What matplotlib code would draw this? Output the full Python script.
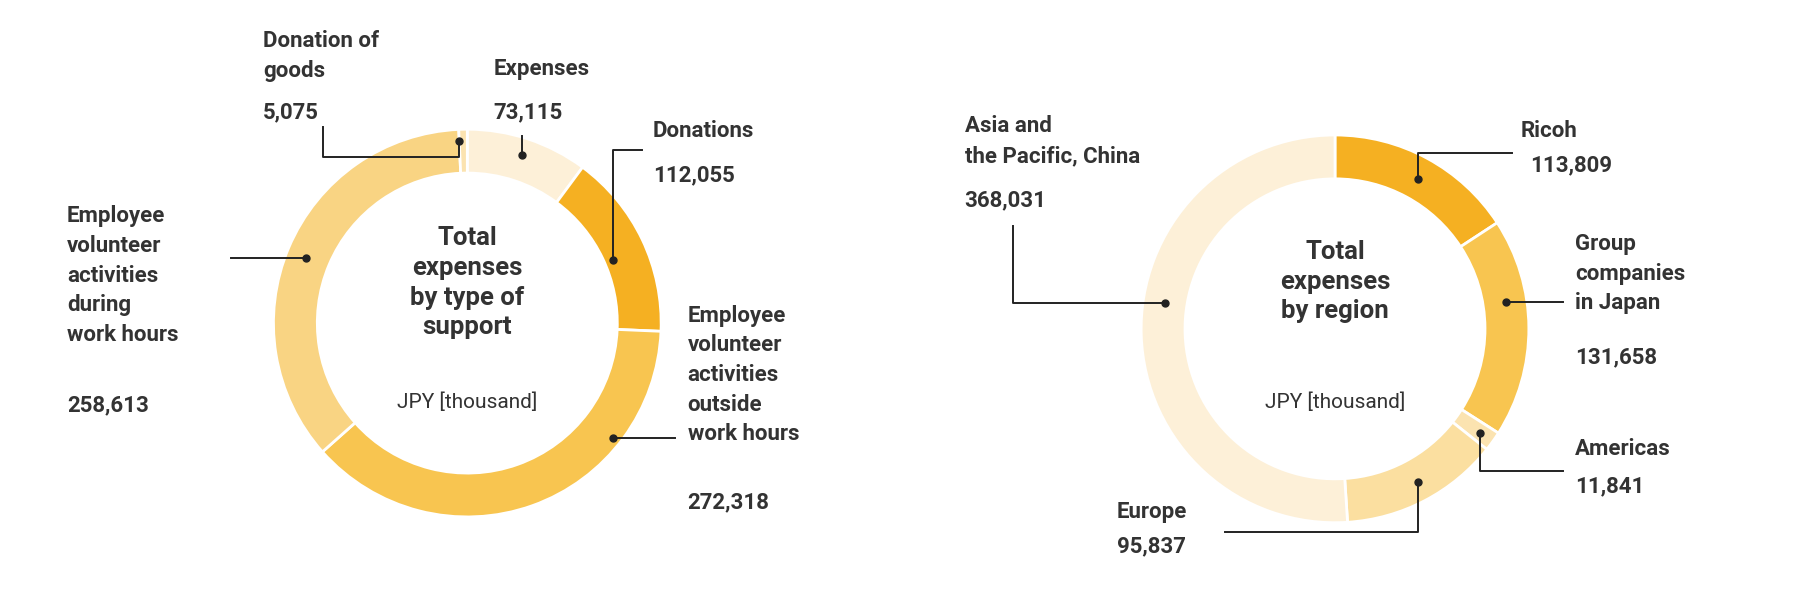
import matplotlib.pyplot as plt

# left donut: by type of support (clockwise from top)
type_labels = ["Expenses", "Donations", "Employee volunteer activities outside work hours",
               "Employee volunteer activities during work hours", "Donation of goods"]
type_values = [73115, 112055, 272318, 258613, 5075]
type_colors = ["#FDF0D8", "#F5B022", "#F8C550", "#F9D483", "#FBE3B0"]

# right donut: by region (clockwise from top)
region_labels = ["Ricoh", "Group companies in Japan", "Americas", "Europe", "Asia and the Pacific, China"]
region_values = [113809, 131658, 11841, 95837, 368031]
region_colors = ["#F5B022", "#F8C550", "#FBE3B0", "#FBDFA0", "#FDF0D8"]

plt.rcParams['font.family'] = ['Roboto', 'DejaVu Sans']
fig = plt.figure(figsize=(18, 6), dpi=100)
ax = fig.add_axes([0, 0, 1, 1])

H = 520  # layout units, y measured from the top


def Y(y):
    return H - y


R, W = 168, 38
for vals, cols, cx, cy in [(type_values, type_colors, 405, 280), (region_values, region_colors, 1157, 285)]:
    ax.pie(vals, colors=cols, startangle=90, counterclock=False, center=(cx, Y(cy)), radius=R,
           wedgeprops=dict(width=W, edgecolor='white', linewidth=2), frame=True)
ax.set_xlim(0, 1560)
ax.set_ylim(0, H)
ax.set_aspect('equal')
ax.axis('off')

fs = 16
tc = "#333333"


def txt(x, y, s, ha='left'):
    ax.text(x, Y(y), s, ha=ha, va='top', fontsize=fs, fontweight='bold', color=tc, linespacing=1.45)


def leader(pts):
    xs = [p[0] for p in pts]
    ys = [Y(p[1]) for p in pts]
    ax.plot(xs, ys, color='#222222', lw=1.4)
    ax.plot(xs[0], ys[0], 'o', color='#222222', ms=5)


# centre texts
ax.text(405, Y(196), "Total\nexpenses\nby type of\nsupport", ha='center', va='top', fontsize=18.5,
        fontweight='bold', color=tc, linespacing=1.3)
ax.text(405, Y(340), "JPY [thousand]", ha='center', va='top', fontsize=15, color=tc)
ax.text(1157, Y(208), "Total\nexpenses\nby region", ha='center', va='top', fontsize=18.5,
        fontweight='bold', color=tc, linespacing=1.3)
ax.text(1157, Y(340), "JPY [thousand]", ha='center', va='top', fontsize=15, color=tc)

# left labels
txt(228, 26, "Donation of\ngoods")
txt(228, 88, "5,075")
leader([(398, 122), (398, 136), (280, 136), (280, 110)])
txt(428, 50, "Expenses")
txt(428, 88, "73,115")
leader([(452, 134), (452, 118)])
txt(566, 104, "Donations")
txt(566, 142, "112,055")
leader([(531, 225), (531, 130), (556, 130)])
txt(596, 264, "Employee\nvolunteer\nactivities\noutside\nwork hours")
txt(596, 426, "272,318")
leader([(531, 380), (585, 380)])
txt(58, 178, "Employee\nvolunteer\nactivities\nduring\nwork hours")
txt(58, 342, "258,613")
leader([(265, 224), (200, 224)])

# right labels
txt(836, 100, "Asia and\nthe Pacific, China")
txt(836, 164, "368,031")
leader([(1010, 263), (878, 263), (878, 196)])
txt(1318, 104, "Ricoh")
txt(1326, 134, "113,809")
leader([(1229, 155), (1229, 133), (1310, 133)])
txt(1365, 202, "Group\ncompanies\nin Japan")
txt(1365, 300, "131,658")
leader([(1305, 262), (1355, 262)])
txt(1365, 380, "Americas")
txt(1365, 412, "11,841")
leader([(1283, 375), (1283, 408), (1355, 408)])
txt(968, 434, "Europe")
txt(968, 464, "95,837")
leader([(1229, 418), (1229, 461), (1062, 461)])

fig.savefig("out.png", dpi=100)
